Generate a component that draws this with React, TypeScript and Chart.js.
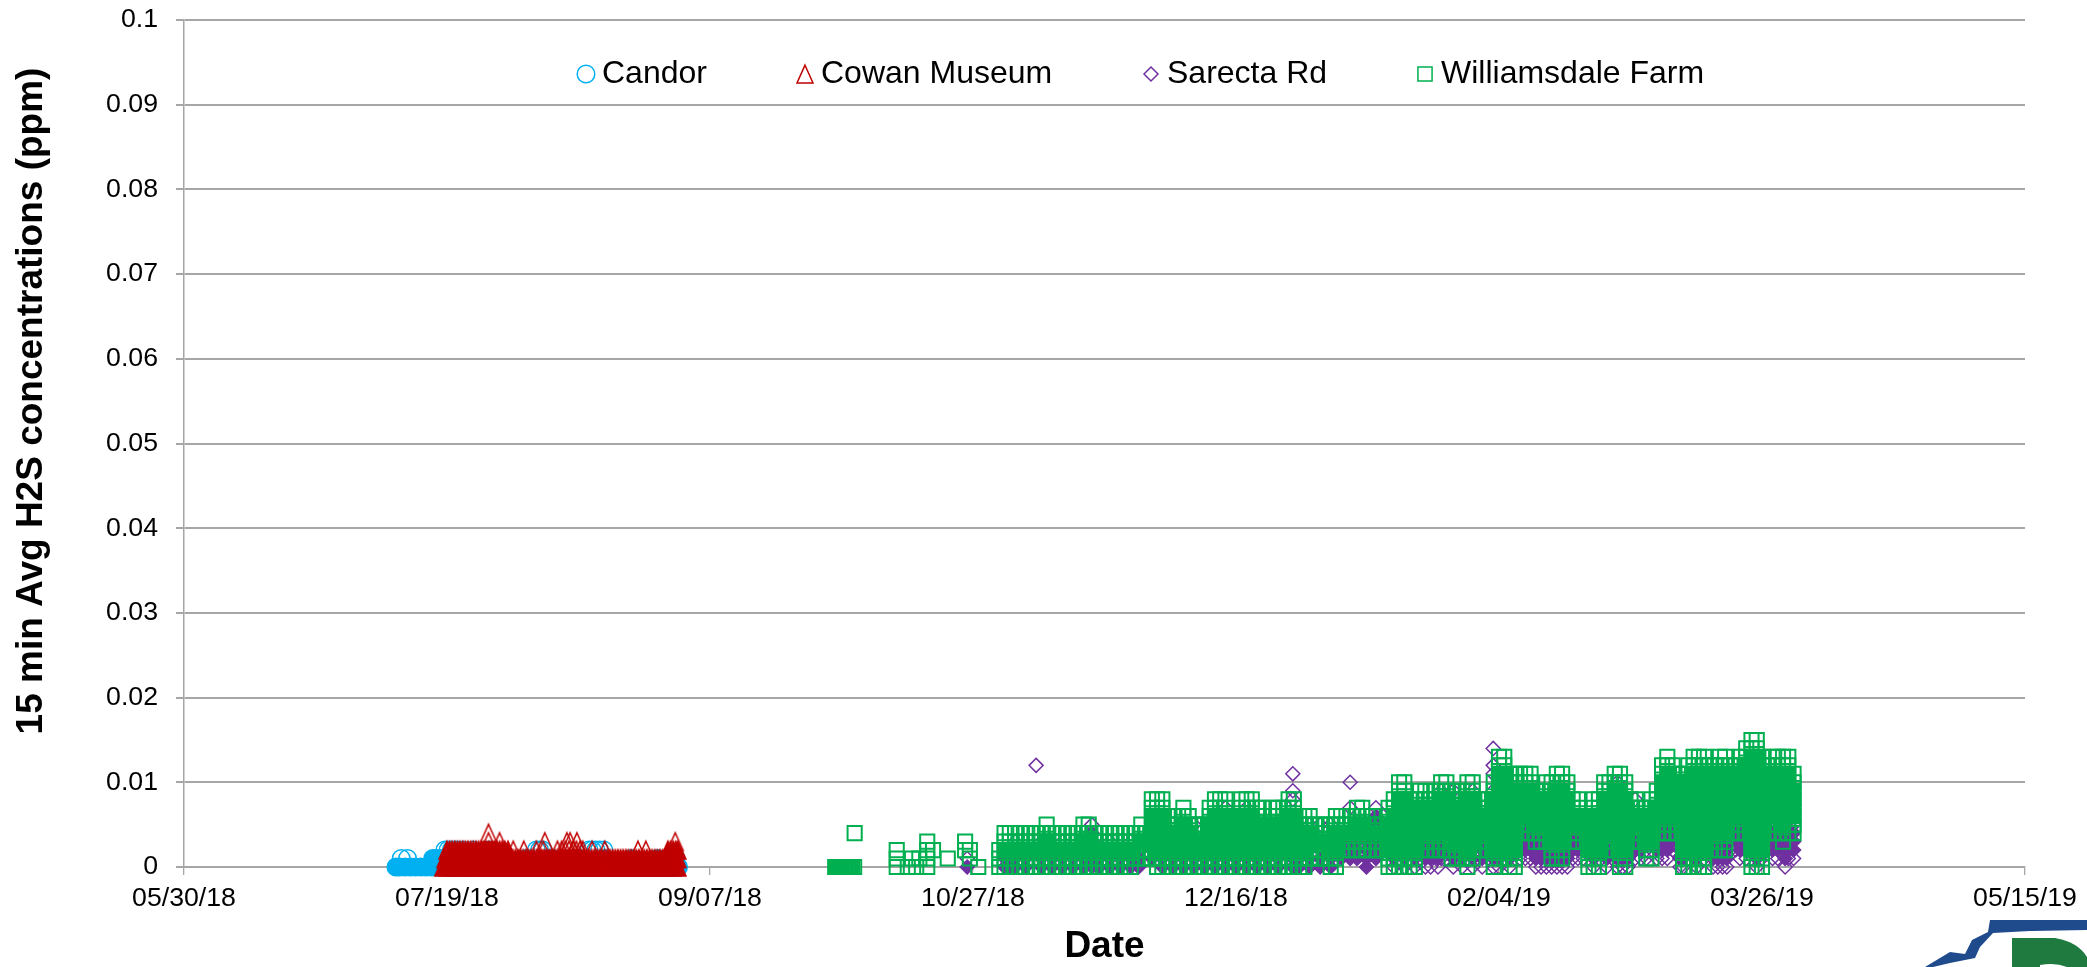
import React, { useEffect, useRef } from "react";
import { Chart, registerables } from "chart.js";
import { drawPoint } from "chart.js/helpers";

Chart.register(...registerables);

const FONT = '"Liberation Sans", Arial, sans-serif';
const xTickLabels = ["05/30/18", "07/19/18", "09/07/18", "10/27/18", "12/16/18", "02/04/19", "03/26/19", "05/15/19"];
const yTickLabels = ["0", "0.01", "0.02", "0.03", "0.04", "0.05", "0.06", "0.07", "0.08", "0.09", "0.1"];
const seriesNames = ["Candor", "Cowan Museum", "Sarecta Rd", "Williamsdale Farm"];
const seriesColors = ["#00B0F0", "#C00000", "#7030A0", "#00B050"];
const legendMarkerX = [586, 805, 1151, 1425];
const yTitle = "15 min Avg H2S concentrations (ppm)";

// x = days since 05/30/18, levels = H2S in ppb
const candorAt0 = [40.3, 41, 42, 43, 44, 45, 46, 47, 48, 49, 51, 53, 55, 57, 59, 61, 63, 65, 67, 69, 71, 73, 75, 77, 79, 81, 83, 85, 87, 89, 91, 93, 94];
const candorAt1Open = [41.3, 42.5];
const candorAt1 = [47.3, 48, 48.6, 49.2, 50, 52, 55, 60, 65, 70, 75, 80, 85, 90, 93.5];
const candorAt2Open = [49.6, 50.2, 50.8, 51.4, 52, 53, 55, 58, 67, 67.6, 68.2, 77, 77.6, 78.3, 79, 79.8];

const cowanAt0 = [49.2, 50, 51, 52, 53, 54, 55, 56, 57, 58, 59, 60, 61, 62, 63, 64, 65, 66, 67, 68, 69, 70, 71, 72, 73, 74, 75, 76, 77, 78, 79, 80, 81, 82, 83, 84, 85, 86, 87, 88, 89, 90, 91, 92, 93, 93.9];
const cowanAt1 = [49.6, 50, 50.5, 51, 51.5, 52, 52.5, 53, 53.5, 54, 54.5, 55, 55.5, 56, 56.5, 57, 57.5, 58, 58.5, 59, 59.5, 60, 60.5, 61, 61.5, 62, 62.5, 63, 63.5, 64, 64.5, 65, 65.5, 66, 66.5, 67, 67.5, 68, 68.5, 69, 69.5, 70, 70.5, 71, 71.5, 72, 72.5, 73, 73.5, 74, 74.5, 75, 75.5, 76, 76.5, 77, 77.5, 78, 78.5, 79, 79.5, 80, 80.5, 81, 81.5, 82, 82.5, 83, 83.5, 84, 84.5, 85, 85.5, 86, 86.5, 87, 87.5, 88, 88.5, 89, 89.5, 90, 90.5, 91, 91.5, 92, 92.5, 93, 93.5, 93.9];
const cowanAt2 = [50, 50.5, 51, 51.5, 52, 52.5, 53, 53.5, 54, 54.5, 55, 55.5, 56, 56.5, 57, 57.5, 58, 58.5, 59, 59.5, 60, 60.5, 61, 61.6, 92, 92.5, 93, 93.5, 93.9];
const cowanAt2Open = [62.6, 64.6, 67, 68.3, 71, 71.8, 72.5, 73.2, 74, 74.6, 75.3, 75.8, 77.6, 80, 86.3, 87.8];
const cowanAt3Open = [57.9, 60, 68.6, 72.8, 73.4, 74.7, 93.4];
const cowanAt4Open = [57.9];

const sarectaColumns = [
  [148.9, 0, 1], [156, 0, 1, 2], [157, 0, 1], [158, 0, 1, 2, 3], [160, 0, 1, 2], [162, 12], [163, 0, 1, 2, 3], [165, 0, 1, 2], [167, 0, 1, 2, 3], [169, 0, 1, 2],
  [171, 0, 1, 2, 3], [172.6, 0, 1, 2, 3, 4, 5], [174, 0, 1, 2], [176, 0, 1, 2, 3], [178, 0, 1, 2], [180, 0, 1, 2, 3], [181.5, 0, 1, 2], [184, 1, 2, 3, 4],
  [186, 0, 1, 2, 3, 5], [188, 0, 1, 2], [190, 0, 1, 2, 3], [192, 0, 1, 2, 5], [194, 0, 1, 2, 3], [196, 0, 1, 2], [198, 0, 1, 2, 3, 7], [200, 0, 1, 2],
  [202, 0, 1, 2, 3, 7], [204, 0, 1, 2], [206, 0, 1, 2, 3], [208, 0, 1, 2], [210.8, 0, 1, 2, 3, 8, 9, 11], [212, 0, 1, 2], [214, 0, 1, 2, 3, 5], [216, 0, 1, 2, 5],
  [218, 0, 1, 2, 5], [220, 1, 2, 3, 4], [221.7, 1, 2, 3, 7, 10], [223, 1, 2, 3, 4], [224.8, 0, 1, 2, 3, 4], [226.6, 1, 2, 3, 4, 5, 6, 7], [228, 2, 3, 4, 5, 6],
  [230, 0, 1, 2], [232, 0, 1, 2, 3], [234, 0, 1, 2], [235, 1, 2, 3, 4], [236, 0, 1, 2, 3], [237, 0, 1, 2, 3, 4], [238.4, 0, 1, 2, 3, 4], [239, 1, 2, 3, 9], [240, 1, 2, 3, 4],
  [241.3, 0, 1, 2, 3, 4, 9], [242, 1, 2, 3], [243, 0, 1, 2, 3], [244, 1, 2, 3], [245, 0, 1, 2, 9], [246.8, 0, 1, 2, 3, 4], [248, 1, 2, 3, 4], [248.9, 0, 1, 2, 9, 11, 12, 14],
  [250, 0, 1, 2, 3], [252, 0, 1, 2], [254, 1, 2, 3, 4, 5], [255, 1, 2, 3, 4, 5, 9], [256, 1, 2, 3, 4, 5, 6], [257, 0, 1, 2, 3, 4, 5], [258, 0, 1, 2, 3, 4], [259, 0, 1, 2, 3, 4],
  [260, 0, 1, 2, 3, 4], [261, 0, 1, 2, 3], [262, 0, 1, 2, 3, 4, 5], [263, 0, 1, 2, 3, 4, 5, 6], [264, 1, 2, 3, 4, 5], [265, 1, 2, 3, 4, 5], [266, 1, 2, 3, 4],
  [268, 0, 1, 2], [270.5, 0, 1, 2, 3, 4], [271.5, 1, 2, 3, 4], [272.5, 0, 1, 2, 10], [273.5, 0, 1, 2], [274.5, 0, 1, 2, 3], [275.9, 1, 2, 3, 4, 8], [277, 1, 2, 3, 4], [278, 1, 2],
  [280, 1, 2, 3, 4, 5], [281, 1, 2, 3, 4, 5], [282, 1, 2, 3, 4, 5, 6], [283, 2, 3, 4, 5], [284.4, 0, 1, 2, 3, 4, 5], [285, 0, 1, 2, 3], [287.6, 0, 1, 2, 3], [289, 1, 2, 3, 4],
  [290.7, 0, 1, 2, 3], [291.6, 0, 1, 2, 3, 4], [292.5, 0, 1, 2, 3], [293.3, 0, 1, 2, 3, 4], [294, 2, 3, 4, 5], [295, 2, 3, 4, 5], [295.8, 1, 2, 3, 4, 5, 6], [297, 1, 2, 3, 4, 5, 6], [298, 2, 3, 4],
  [299, 0, 1, 2, 3], [300, 1, 2, 3, 4, 5], [301, 2, 3, 4, 5], [302, 1, 2, 3, 4, 5], [303, 1, 2, 3, 4, 5], [304.4, 0, 1, 2, 3, 4, 5], [305, 1, 2, 3, 4, 5], [306, 1, 2, 3, 4, 5, 8],
];

const williamsdaleSparse = [
  [123.8, 0], [124, 0], [124.25, 0], [124.5, 0], [124.75, 0], [125, 0], [125.25, 0], [125.5, 0], [125.75, 0], [126, 0], [126.25, 0], [126.5, 0], [126.75, 0], [127, 0], [127.4, 0],
  [127.5, 4], [135.5, 0, 1, 2], [137.6, 0], [138.4, 1], [139.2, 0], [139.8, 1], [141.3, 0, 1, 2, 3], [142.4, 2], [145.2, 1], [148.5, 2, 3], [149.4, 1, 2], [151, 0],
];

const williamsdaleColumns = [
  [155, 0, 1, 2], [156, 0, 1, 2, 3, 4], [157, 0, 1, 2, 3, 4], [158, 0, 1, 2, 3, 4], [159, 0, 1, 2, 3, 4], [160, 0, 1, 2, 3, 4], [161, 0, 1, 2, 3, 4], [162, 0, 1, 2, 3, 4], [163, 0, 1, 2, 3, 4],
  [164, 0, 1, 2, 3, 4, 5], [165, 0, 1, 2, 3, 4], [166, 0, 1, 2, 3, 4], [167, 0, 1, 2, 3, 4], [168, 0, 1, 2, 3, 4], [169, 0, 1, 2, 3, 4], [170, 0, 1, 2, 3, 4],
  [171, 0, 1, 2, 3, 4, 5], [172, 0, 1, 2, 3, 4, 5], [173, 0, 1, 2, 3, 4], [174, 0, 1, 2, 3, 4], [175, 0, 1, 2, 3, 4], [176, 0, 1, 2, 3, 4], [177, 0, 1, 2, 3, 4], [178, 0, 1, 2, 3, 4],
  [179, 0, 1, 2, 3, 4], [180, 0, 1, 2, 3, 4], [181, 1, 2, 3, 4], [182, 1, 2, 3, 4, 5], [183, 1, 2, 3, 4], [184, 1, 2, 3, 4, 5, 6, 7, 8], [185, 0, 1, 2, 3, 4, 5, 6, 7, 8], [186, 0, 1, 2, 3, 4, 5, 6, 7, 8],
  [187, 0, 1, 2, 3, 4, 5, 6], [188, 0, 1, 2, 3, 4, 5, 6], [189, 0, 1, 2, 3, 4, 5, 6], [190, 0, 1, 2, 3, 4, 5, 6, 7], [191, 0, 1, 2, 3, 4, 5, 6], [192, 0, 1, 2, 3, 4, 5], [193, 0, 1, 2, 3, 4, 5], [194, 0, 1, 2, 3, 4, 5],
  [195, 0, 1, 2, 3, 4, 5, 6, 7], [196, 0, 1, 2, 3, 4, 5, 6, 7, 8], [197, 0, 1, 2, 3, 4, 5, 6, 7, 8], [198, 0, 1, 2, 3, 4, 5, 6, 7, 8], [199, 0, 1, 2, 3, 4, 5, 6], [200, 0, 1, 2, 3, 4, 5, 6],
  [201, 0, 1, 2, 3, 4, 5, 6, 7, 8], [202, 0, 1, 2, 3, 4, 5, 6, 7, 8], [203, 0, 1, 2, 3, 4, 5, 6, 7, 8], [204, 0, 1, 2, 3, 4, 5, 6, 7], [205, 0, 1, 2, 3, 4, 5, 6, 7], [206, 0, 1, 2, 3, 4, 5],
  [207, 0, 1, 2, 3, 4, 5, 6, 7], [208, 0, 1, 2, 3, 4, 5, 6, 7], [209, 0, 1, 2, 3, 4, 5, 6, 7], [210, 0, 1, 2, 3, 4, 5, 6, 7, 8], [211, 0, 1, 2, 3, 4, 5, 6, 7, 8], [212, 0, 1, 2, 3, 4, 5, 6], [213, 0, 1, 2, 3, 4, 5, 6], [214, 1, 2, 3, 4, 5, 6],
  [215, 1, 2, 3, 4, 5], [216, 1, 2, 3, 4, 5], [217, 1, 2, 3, 4, 5], [218, 0, 1, 2, 3, 4, 5], [219, 0, 1, 2, 3, 4, 5, 6], [220, 2, 3, 4, 5, 6], [221, 2, 3, 4, 5, 6], [222, 2, 3, 4, 5, 6],
  [223, 2, 3, 4, 5, 6, 7], [224, 2, 3, 4, 5, 6, 7], [225, 2, 3, 4, 5, 6], [226, 2, 3, 4, 5, 6], [227, 2, 3, 4, 5], [228, 2, 3, 4, 5], [229, 0, 1, 2, 3, 4, 5, 6, 7], [230, 0, 1, 2, 3, 4, 5, 6, 7, 8],
  [231, 0, 1, 2, 3, 4, 5, 6, 7, 8, 9, 10], [232, 0, 1, 2, 3, 4, 5, 6, 7, 8, 9, 10], [233, 0, 1, 2, 3, 4, 5, 6, 7, 8], [234, 0, 1, 2, 3, 4, 5, 6, 7, 8], [235, 2, 3, 4, 5, 6, 7, 8, 9], [236, 2, 3, 4, 5, 6, 7, 8, 9],
  [237, 2, 3, 4, 5, 6, 7, 8, 9], [238, 2, 3, 4, 5, 6, 7, 8, 9], [239, 2, 3, 4, 5, 6, 7, 8, 9, 10], [240, 2, 3, 4, 5, 6, 7, 8, 9, 10], [241, 1, 2, 3, 4, 5, 6, 7, 8, 9], [242, 1, 2, 3, 4, 5, 6, 7, 8, 9],
  [243, 1, 2, 3, 4, 5, 6, 7, 8, 9], [244, 0, 1, 2, 3, 4, 5, 6, 7, 8, 9, 10], [245, 1, 2, 3, 4, 5, 6, 7, 8, 9, 10], [246, 2, 3, 4, 5, 6, 7, 8], [247, 2, 3, 4, 5, 6, 7, 8], [248, 2, 3, 4, 5, 6, 7, 8],
  [249, 0, 1, 2, 3, 4, 5, 6, 7, 8, 9, 10], [250, 1, 2, 3, 4, 5, 6, 7, 8, 9, 10, 11, 12, 13], [251, 1, 2, 3, 4, 5, 6, 7, 8, 9, 10, 11, 12, 13], [252, 0, 1, 2, 3, 4, 5, 6, 7, 8, 9, 10, 11], [253, 0, 1, 2, 3, 4, 5, 6, 7, 8, 9, 10, 11],
  [254, 4, 5, 6, 7, 8, 9, 10, 11], [255, 4, 5, 6, 7, 8, 9, 10, 11], [256, 4, 5, 6, 7, 8, 9, 10, 11], [257, 3, 4, 5, 6, 7, 8, 9], [258, 3, 4, 5, 6, 7, 8, 9], [259, 3, 4, 5, 6, 7, 8, 9, 10], [260, 1, 2, 3, 4, 5, 6, 7, 8, 9, 10],
  [261, 1, 2, 3, 4, 5, 6, 7, 8, 9, 10, 11], [262, 1, 2, 3, 4, 5, 6, 7, 8, 9, 10, 11], [263, 5, 6, 7, 8, 9, 10], [264, 3, 4, 5, 6, 7, 8], [265, 3, 4, 5, 6, 7, 8], [266, 3, 4, 5], [267, 0, 1, 2, 3, 4, 5, 6], [268, 0, 1, 2, 3, 4, 5, 6, 7, 8],
  [269, 0, 1, 2, 3, 4, 5, 6, 7, 8], [270, 2, 3, 4, 5, 6, 7, 8, 9, 10], [271, 2, 3, 4, 5, 6, 7, 8, 9, 10], [272, 2, 3, 4, 5, 6, 7, 8, 9, 10, 11], [273, 0, 1, 2, 3, 4, 5, 6, 7, 8, 9, 10, 11], [274, 0, 1, 2, 3, 4, 5, 6, 7, 8, 9, 10],
  [275, 3, 4, 5, 6, 7, 8], [276, 3, 4, 5, 6, 7, 8], [277, 3, 4, 5, 6, 7], [278, 1, 2, 3, 4, 5, 6, 7], [279, 1, 2, 3, 4, 5, 6, 7, 8], [280, 4, 5, 6, 7, 8, 9], [281, 4, 5, 6, 7, 8, 9, 10, 11, 12], [282, 4, 5, 6, 7, 8, 9, 10, 11, 12, 13],
  [283, 4, 5, 6, 7, 8, 9, 10, 11, 12], [284, 4, 5, 6, 7, 8, 9, 10, 11], [285, 0, 1, 2, 3, 4, 5, 6, 7, 8, 9, 10, 11], [286, 0, 1, 2, 3, 4, 5, 6, 7, 8, 9, 10, 11, 12], [287, 0, 1, 2, 3, 4, 5, 6, 7, 8, 9, 10, 11, 12, 13], [288, 0, 1, 2, 3, 4, 5, 6, 7, 8, 9, 10, 11, 12, 13],
  [289, 0, 1, 2, 3, 4, 5, 6, 7, 8, 9, 10, 11, 12, 13], [290, 2, 3, 4, 5, 6, 7, 8, 9, 10, 11, 12], [291, 2, 3, 4, 5, 6, 7, 8, 9, 10, 11, 12], [292, 2, 3, 4, 5, 6, 7, 8, 9, 10, 11, 12, 13], [293, 2, 3, 4, 5, 6, 7, 8, 9, 10, 11, 12, 13],
  [294, 4, 5, 6, 7, 8, 9, 10, 11, 12], [295, 4, 5, 6, 7, 8, 9, 10, 11, 12], [296, 4, 5, 6, 7, 8, 9, 10, 11, 12, 13], [297, 4, 5, 6, 7, 8, 9, 10, 11, 12, 13, 14], [298, 0, 1, 2, 3, 4, 5, 6, 7, 8, 9, 10, 11, 12, 13, 14, 15],
  [299, 0, 1, 2, 3, 4, 5, 6, 7, 8, 9, 10, 11, 12, 13, 14, 15], [300, 0, 1, 2, 3, 4, 5, 6, 7, 8, 9, 10, 11, 12, 13], [301, 4, 5, 6, 7, 8, 9, 10, 11, 12], [302, 4, 5, 6, 7, 8, 9, 10, 11, 12, 13], [303, 4, 5, 6, 7, 8, 9, 10, 11, 12, 13],
  [304, 3, 4, 5, 6, 7, 8, 9, 10, 11, 12, 13], [305, 4, 5, 6, 7, 8, 9, 10, 11, 12, 13], [306, 4, 5, 6, 7, 8, 9, 10, 11],
];

type Pt = { x: number; y: number };

function makeTriangle(color: string, filled: boolean) {
  const c = document.createElement("canvas");
  c.width = 22;
  c.height = 22;
  const g = c.getContext("2d")!;
  g.beginPath();
  g.moveTo(11, 2.2);
  g.lineTo(19, 20);
  g.lineTo(3, 20);
  g.closePath();
  g.lineWidth = 1.5;
  g.strokeStyle = color;
  if (filled) {
    g.fillStyle = color;
    g.fill();
  }
  g.stroke();
  return c;
}

function levelPoints(groups: [number[], number, boolean][]) {
  const pts: Pt[] = [];
  const fill: boolean[] = [];
  groups.forEach(([days, ppb, filled]) =>
    days.forEach((d) => {
      pts.push({ x: d, y: ppb / 1000 });
      fill.push(filled);
    })
  );
  return { pts, fill };
}

function columnPoints(columns: number[][], inner: (lvl: number, lo: number, hi: number, day: number) => boolean) {
  const pts: Pt[] = [];
  const fill: boolean[] = [];
  columns.forEach(([day, ...lv]) => {
    const run = lv.filter((l, i) => i === 0 || l === lv[i - 1] + 1);
    const lo = run[0];
    const hi = run[run.length - 1];
    lv.forEach((l) => {
      pts.push({ x: day, y: l / 1000 });
      fill.push(inner(l, lo, hi, day));
    });
  });
  return { pts, fill };
}

export default function App() {
  const ref = useRef<HTMLCanvasElement>(null);
  useEffect(() => {
    document.body.style.margin = "0";
    const candor = levelPoints([[candorAt0, 0, true], [candorAt1, 1, true], [candorAt1Open, 1, false], [candorAt2Open, 2, false]]);
    const cowan = levelPoints([[cowanAt0, 0, true], [cowanAt1, 1, true], [cowanAt2, 2, true], [cowanAt2Open, 2, false], [cowanAt3Open, 3, false], [cowanAt4Open, 4, false]]);
    const sarecta = columnPoints(sarectaColumns, (l, lo, hi, day) => l < hi && l <= lo + 6 && (l > lo || day < 230));
    const wfA = columnPoints(williamsdaleSparse, () => false);
    const wfB = columnPoints(williamsdaleColumns, (l, lo, hi) => l >= lo + 2 && l <= hi - 2);
    const wfPts = [...wfA.pts, ...wfB.pts];
    const wfFill = [...wfA.fill, ...wfB.fill];

    const triOpen = makeTriangle(seriesColors[1], false);
    const triFull = makeTriangle(seriesColors[1], true);
    const bg = (flags: boolean[], color: string) => flags.map((f) => (f ? color : "rgba(0,0,0,0)"));

    const legendStyles: { style: any; radius: number }[] = [
      { style: "circle", radius: 8.8 },
      { style: triOpen, radius: 9 },
      { style: "rectRot", radius: 7 },
      { style: "rect", radius: 10 },
    ];

    const overlay = {
      id: "overlay",
      afterDatasetsDraw(chart: Chart) {
        const ctx = chart.ctx;
        ctx.save();
        seriesNames.forEach((name, i) => {
          ctx.strokeStyle = seriesColors[i];
          ctx.fillStyle = "rgba(0,0,0,0)";
          ctx.lineWidth = 1.5;
          drawPoint(ctx, { pointStyle: legendStyles[i].style, radius: legendStyles[i].radius, rotation: 0, borderWidth: 1.5 } as any, legendMarkerX[i], 74);
          ctx.fillStyle = "#000";
          ctx.font = `32px ${FONT}`;
          ctx.textAlign = "left";
          ctx.textBaseline = "middle";
          ctx.fillText(name, legendMarkerX[i] + 16, 74);
        });
        ctx.translate(32, 401);
        ctx.rotate(-Math.PI / 2);
        ctx.textAlign = "center";
        ctx.font = `bold 37px ${FONT}`;
        ctx.fillText(yTitle, 0, 0);
        ctx.restore();
      },
    };

    const chart = new Chart(ref.current!, {
      type: "scatter",
      plugins: [overlay],
      data: {
        datasets: [
          {
            label: seriesNames[0], order: 4, clip: false, data: candor.pts,
            pointStyle: "circle", pointRadius: 8.8, pointBorderWidth: 1.5,
            pointBorderColor: seriesColors[0], pointBackgroundColor: bg(candor.fill, seriesColors[0]),
          },
          {
            label: seriesNames[1], order: 3, clip: false, data: cowan.pts,
            pointStyle: cowan.fill.map((f) => (f ? triFull : triOpen)), pointRadius: 9, pointBorderWidth: 1.5,
            pointBorderColor: seriesColors[1], pointBackgroundColor: bg(cowan.fill, seriesColors[1]),
          },
          {
            label: seriesNames[2], order: 2, clip: false, data: sarecta.pts,
            pointStyle: "rectRot", pointRadius: 7, pointBorderWidth: 1.5,
            pointBorderColor: seriesColors[2], pointBackgroundColor: bg(sarecta.fill, seriesColors[2]),
          },
          {
            label: seriesNames[3], order: 1, clip: false, data: wfPts,
            pointStyle: "rect", pointRadius: 10, pointBorderWidth: 2,
            pointBorderColor: seriesColors[3], pointBackgroundColor: bg(wfFill, seriesColors[3]),
          },
        ] as any,
      },
      options: {
        responsive: false,
        animation: false,
        devicePixelRatio: 1,
        layout: { padding: { top: 20, right: 62, left: 0, bottom: 0 } },
        plugins: { legend: { display: false }, tooltip: { enabled: false } },
        scales: {
          x: {
            type: "linear",
            min: 0,
            max: 350,
            afterFit(s: any) { s.height = 100; },
            grid: { drawOnChartArea: false, drawTicks: true, tickLength: 8, color: "#A6A6A6", lineWidth: 1.3 },
            border: { color: "#A6A6A6", width: 2 },
            ticks: {
              stepSize: 50, autoSkip: false, maxRotation: 0, padding: 8, color: "#000",
              font: { family: FONT, size: 26.7 },
              callback: (_v: any, i: number) => xTickLabels[i],
            },
            title: { display: true, text: "Date", color: "#000", font: { family: FONT, size: 37, weight: "bold" }, padding: { top: 0, bottom: -2 } },
          },
          y: {
            min: 0,
            max: 0.1,
            afterFit(s: any) { s.width = 184; s.paddingTop = 0; s.paddingBottom = 0; },
            grid: { color: "#A6A6A6", lineWidth: 2, tickLength: 8, drawTicks: true },
            border: { color: "#A6A6A6", width: 1.5 },
            ticks: {
              stepSize: 0.01, autoSkip: false, padding: 18, color: "#000",
              font: { family: FONT, size: 26.7 },
              callback: (_v: any, i: number) => yTickLabels[i],
            },
          },
        },
      } as any,
    });
    return () => chart.destroy();
  }, []);

  return (
    <div style={{ position: "relative", width: 2087, height: 967, overflow: "hidden", background: "#fff" }}>
      <canvas ref={ref} width={2087} height={967} style={{ display: "block" }} />
      <svg width={2087} height={967} style={{ position: "absolute", left: 0, top: 0, pointerEvents: "none" }}>
        <path d="M1990 920 L2087 920 L2087 930 L2030 931 L1993 933 L1980 947 L1975 958 L1950 963 L1933 967 L1925 967 L1950 952 L1965 954 L1972 940 L1988 932 Z" fill="#1F4A8C" />
        <path d="M2012 938 L2055 938 Q2078 942 2087 957 L2087 967 L2012 967 Z" fill="#1E7A3E" />
        <path d="M2040 965 Q2055 962 2067 967 L2040 967 Z" fill="#fff" />
      </svg>
    </div>
  );
}
